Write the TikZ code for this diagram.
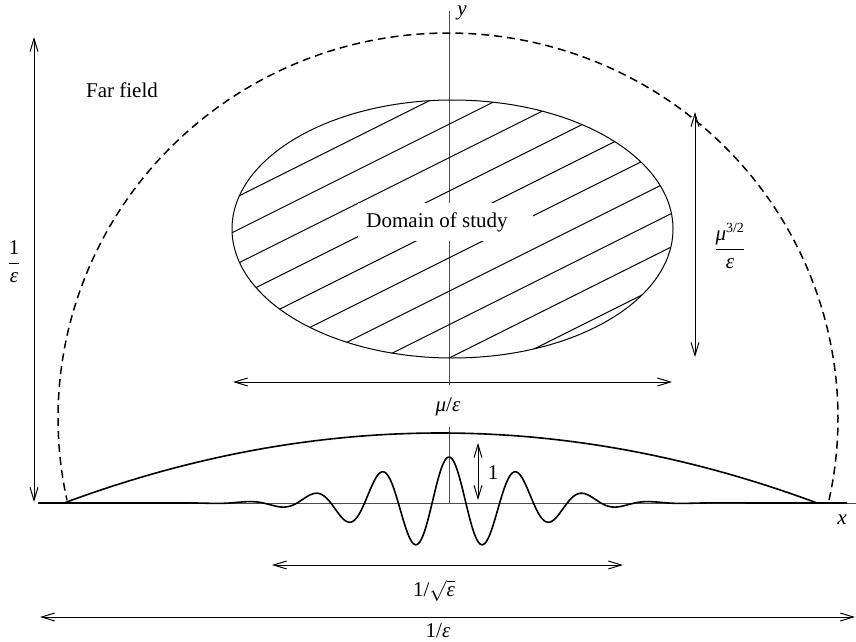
\documentclass[tikz,border=0pt]{standalone}
\usepackage{fontspec}
\setmainfont{Liberation Serif}
\usetikzlibrary{arrows.meta}
\newcommand{\gmu}{\textit{μ}}
\newcommand{\geps}{\textit{ε}}
\begin{document}
\begin{tikzpicture}[x=1pt,y=-1pt,
  lbl/.style={font=\fontsize{21}{25}\selectfont, inner sep=0pt},
  dimline/.style={line width=1pt, {Straight Barb[length=13pt,width=8pt]}-{Straight Barb[length=13pt,width=8pt]}},
  axisline/.style={line width=1pt, black!70},
  thickcurve/.style={line width=1.6pt},
  farline/.style={line width=1.5pt, dash pattern=on 8pt off 5pt},
  hatchline/.style={line width=1pt},
  bound/.style={line width=1pt}]
\useasboundingbox (0,0) rectangle (856,642);
% axes
\coordinate (xa) at (38,503);
\coordinate (xb) at (856,503);
\coordinate (ya) at (449,11);
\coordinate (yb) at (449,503);
\draw[axisline] (xa) -- (xb);
\draw[axisline] (ya) -- (yb);
\node[lbl] (ylab) at (462,13) {\textit{y}};
\node[lbl] (xlab) at (842,520) {\textit{x}};
% far field boundary
\draw[farline] plot[domain=-12.3:192.3, samples=200] ({448+390*cos(\x)}, {418-385*sin(\x)});
\node[lbl] (far) at (122,90) {Far field};
% domain of study
\draw[bound] (452.5,229) ellipse [x radius=220.5, y radius=129];
\begin{scope}
  \clip (452.5,229) ellipse [x radius=220.5, y radius=129];
  \foreach \k in {-2,...,9}
    \draw[hatchline] (149,{124.3+33.4*\k+150}) -- (749,{124.3+33.4*\k-150});
\end{scope}
\fill[white] (358,203) rectangle (533,241);
\node[lbl] (dom) at (437,222) {Domain of study};
% arch and wave packet
\draw[thickcurve] plot[domain=64:817, samples=120] (\x, {503-70*(1-((\x-440.5)/376.5)^2)});
\draw[thickcurve] (38,503) -- (189,503)
  -- plot[domain=-260:260, samples=400] ({449+\x}, {503-46*exp(-0.5*(\x/76)^2)*cos(\x*5.33)})
  -- (847,503);
% labels with white background
\fill[white] (432,385) rectangle (466,427);
\node[lbl] (mue) at (448,407) {\gmu/\geps};
% dimension arrows
\coordinate (l1) at (34,37);
\coordinate (l2) at (34,502);
\draw[dimline] (l1) -- (l2);
\node[lbl] (leps) at (14,262) {$\displaystyle\frac{\hbox{1}}{\hbox{\geps}}$};
\coordinate (r1) at (695,112);
\coordinate (r2) at (695,357);
\draw[dimline] (r1) -- (r2);
\node[lbl] (rmu) at (730,246) {$\displaystyle\frac{\hbox{\gmu}^{\hbox{\fontsize{14}{16}\selectfont 3/2}}}{\hbox{\geps}}$};
\coordinate (h1) at (233,382);
\coordinate (h2) at (672,382);
\draw[dimline] (h1) -- (h2);
\coordinate (a1) at (478,443);
\coordinate (a2) at (478,500);
\draw[dimline] (a1) -- (a2);
\node[lbl] (one) at (493,473) {1};
\coordinate (s1) at (272,565);
\coordinate (s2) at (623,565);
\draw[dimline] (s1) -- (s2);
\node[lbl] (sq) at (434,591) {1/$\sqrt{\hbox{\geps}}$};
\coordinate (b1) at (40,617);
\coordinate (b2) at (855,617);
\draw[dimline] (b1) -- (b2);
\node[lbl] (beps) at (438,631) {1/\geps};
\end{tikzpicture}
\end{document}
